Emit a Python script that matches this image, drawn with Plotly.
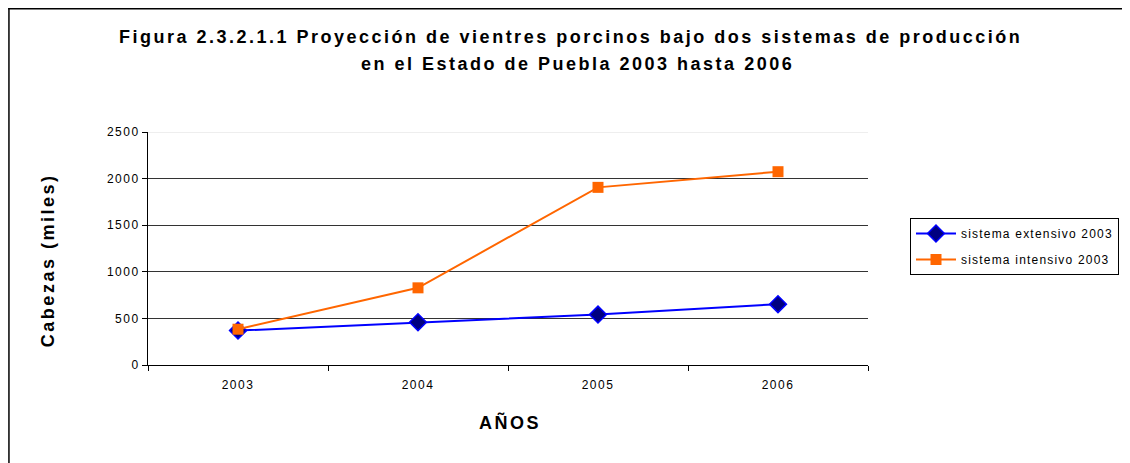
import plotly.graph_objects as go

# Data (thousands of head)
years = ["2003", "2004", "2005", "2006"]
extensivo = [369, 459, 541, 653]
intensivo = [384, 828, 1906, 2074]
y_ticks = [0, 500, 1000, 1500, 2000, 2500]

title_lines = [
    "Figura 2.3.2.1.1 Proyección de vientres porcinos bajo dos sistemas de producción",
    "en el Estado de Puebla 2003 hasta 2006",
]

font_family = "Liberation Sans, Arial, sans-serif"


def spaced(text, px):
    return f"<span style='letter-spacing:{px}px'>{text}</span>"


# page body has an 8px margin, so the figure is a bit smaller than the window
W, H = 1122, 455
L, R, T, B = 140, 261, 124, 98
PW, PH = W - L - R, H - T - B


def px_x(x):
    # page x pixel -> paper coordinate
    return (x - 8 - L) / PW


def px_y(y):
    # page y pixel -> paper coordinate
    return (H - B - (y - 8)) / PH


fig = go.Figure()

fig.add_trace(go.Scatter(
    x=years,
    y=extensivo,
    mode="lines+markers",
    name=spaced("sistema extensivo 2003", 1.2),
    legendgroup="ext",
    line=dict(color="#0000FF", width=2),
    marker=dict(symbol="diamond", size=13, color="#000080",
                line=dict(color="#0000FF", width=1.5)),
))

fig.add_trace(go.Scatter(
    x=years,
    y=intensivo,
    mode="lines+markers",
    name=spaced("sistema intensivo 2003", 1.2),
    legendgroup="int",
    line=dict(color="#FF6600", width=2),
    marker=dict(symbol="square", size=11, color="#FF6600"),
))

fig.update_layout(
    width=W,
    height=H,
    margin=dict(l=L, r=R, t=T, b=B),
    paper_bgcolor="white",
    plot_bgcolor="white",
    font=dict(family=font_family, color="black", size=12),
    showlegend=True,
    legend=dict(
        x=px_x(910),
        y=px_y(218),
        xanchor="left",
        yanchor="top",
        bordercolor="black",
        borderwidth=1,
        bgcolor="white",
        font=dict(size=12),
        traceorder="grouped",
        tracegroupgap=7,
        itemwidth=40,
    ),
    xaxis=dict(
        type="category",
        range=[-0.5, len(years) - 0.5],
        tickmode="array",
        tickvals=years,
        ticktext=[spaced(y, 1.5) for y in years],
        showline=True,
        linecolor="black",
        linewidth=1,
        ticks="outside",
        tickson="boundaries",
        ticklen=5,
        tickcolor="black",
        ticklabelstandoff=9,
        showgrid=False,
        tickfont=dict(size=12),
    ),
    yaxis=dict(
        range=[0, 2500],
        tickmode="array",
        tickvals=y_ticks,
        ticktext=[spaced(v, 1.5) for v in y_ticks],
        showline=True,
        linecolor="black",
        linewidth=1,
        ticks="outside",
        ticklen=5,
        tickcolor="black",
        showgrid=True,
        gridcolor="#333333",
        gridwidth=1,
        zeroline=False,
        tickfont=dict(size=12),
    ),
    annotations=[
        dict(
            text="<b>" + spaced(title_lines[0], 2.5) + "</b>",
            xref="paper", yref="paper",
            x=px_x(571), y=px_y(37),
            xanchor="center", yanchor="middle",
            showarrow=False,
            font=dict(size=18),
        ),
        dict(
            text="<b>" + spaced(title_lines[1], 2.5) + "</b>",
            xref="paper", yref="paper",
            x=px_x(578), y=px_y(64),
            xanchor="center", yanchor="middle",
            showarrow=False,
            font=dict(size=18),
        ),
        dict(
            text="<b>" + spaced("Cabezas (miles)", 2.5) + "</b>",
            xref="paper", yref="paper",
            x=px_x(48), y=px_y(260),
            xanchor="center", yanchor="middle",
            textangle=-90,
            showarrow=False,
            font=dict(size=18),
        ),
        dict(
            text="<b>" + spaced("AÑOS", 2.5) + "</b>",
            xref="paper", yref="paper",
            x=px_x(511), y=px_y(422),
            xanchor="center", yanchor="middle",
            showarrow=False,
            font=dict(size=18),
        ),
    ],
    shapes=[
        # chart frame (top and left edges visible in the crop)
        dict(type="line", xref="paper", yref="paper",
             x0=-L / PW, x1=(W - L) / PW,
             y0=(H - B - 0.75) / PH, y1=(H - B - 0.75) / PH,
             line=dict(color="black", width=1.5)),
        dict(type="line", xref="paper", yref="paper",
             x0=-(L - 0.75) / PW, x1=-(L - 0.75) / PW,
             y0=(H - B) / PH, y1=-B / PH,
             line=dict(color="black", width=1.5)),
        # faint top gridline
        dict(type="line", xref="paper", yref="y",
             x0=0, x1=1, y0=2500, y1=2500,
             line=dict(color="#eeeeee", width=2)),
    ],
)

fig.write_html("out.html")
